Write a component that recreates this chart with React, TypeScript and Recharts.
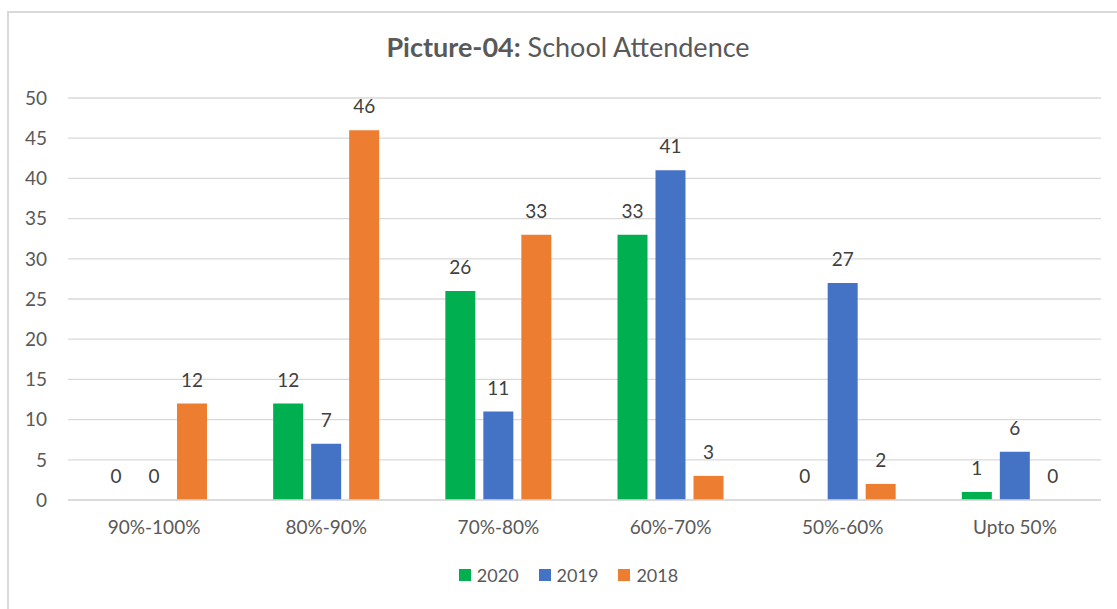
import { BarChart, Bar, XAxis, YAxis, CartesianGrid, Legend, LabelList } from "recharts";

const categories = ["90%-100%", "80%-90%", "70%-80%", "60%-70%", "50%-60%", "Upto 50%"];
const y2020 = [0, 12, 26, 33, 0, 1];
const y2019 = [0, 7, 11, 41, 27, 6];
const y2018 = [12, 46, 33, 3, 2, 0];
const yTicks = [0, 5, 10, 15, 20, 25, 30, 35, 40, 45, 50];

const series = [
  { key: "y2020", name: "2020", color: "#00B050" },
  { key: "y2019", name: "2019", color: "#4472C4" },
  { key: "y2018", name: "2018", color: "#ED7D31" },
];

const data = categories.map((c, i) => ({
  cat: c,
  y2020: y2020[i],
  y2019: y2019[i],
  y2018: y2018[i],
}));

const font = "Lato, 'Open Sans', sans-serif";

function LegendBox() {
  return (
    <div style={{ display: "flex", justifyContent: "center", gap: 20, fontFamily: font, fontSize: 18, color: "#595959" }}>
      {series.map((s) => (
        <div key={s.key} style={{ display: "flex", alignItems: "center", gap: 6 }}>
          <span style={{ width: 12, height: 12, background: s.color, display: "inline-block" }} />
          <span>{s.name}</span>
        </div>
      ))}
    </div>
  );
}

const renderLabel = (props: any) => {
  const { x, y, width, height, value } = props;
  // tiny min-size bars grow upward; anchor on the bar's top edge
  const top = Math.min(Number(y), Number(y) + Number(height));
  return (
    <text
      x={Number(x) + Number(width) / 2}
      y={top - 17}
      textAnchor="middle"
      fill="#404040"
      fontSize={19}
      fontFamily={font}
    >
      {value}
    </text>
  );
};

export default function App() {
  return (
    <div style={{ position: "absolute", left: 0, top: 0, width: 1117, height: 609, overflow: "hidden", background: "#fff" }}>
      <div style={{ position: "absolute", left: 7, top: 11, width: 1200, height: 700, border: "2px solid #d9d9d9" }} />
      <div style={{ position: "absolute", left: 0, top: 0 }}>
        <BarChart
          width={1117}
          height={609}
          data={data}
          margin={{ top: 98, right: 16, left: 0, bottom: 69 }}
          barSize={30}
          barGap={8}
        >
          <text x={568} y={57} textAnchor="middle" fontFamily={font} fontSize={27} fill="#595959">
            <tspan fontWeight="bold">Picture-04:</tspan>
            <tspan> School Attendence</tspan>
          </text>
          <CartesianGrid vertical={false} stroke="#d9d9d9" strokeWidth={1.3} />
          <XAxis
            dataKey="cat"
            height={40}
            tickLine={false}
            tickSize={0}
            tickMargin={21}
            axisLine={{ stroke: "#d9d9d9", strokeWidth: 1.5 }}
            tick={{ fill: "#595959", fontSize: 19, fontFamily: font }}
          />
          <YAxis
            width={68}
            domain={[0, 50]}
            ticks={yTicks}
            axisLine={false}
            tickLine={false}
            tickSize={0}
            tickMargin={21}
            tick={{ fill: "#595959", fontSize: 19, fontFamily: font }}
          />
          <Legend
            layout="horizontal"
            verticalAlign="middle"
            align="center"
            wrapperStyle={{ top: 564, left: 10, width: 1117 }}
            content={() => <LegendBox />}
          />
          {series.map((s) => (
            <Bar
              key={s.key}
              dataKey={s.key}
              name={s.name}
              fill={s.color}
              minPointSize={0.01}
              isAnimationActive={false}
            >
              <LabelList dataKey={s.key} content={renderLabel} />
            </Bar>
          ))}
        </BarChart>
      </div>
    </div>
  );
}
